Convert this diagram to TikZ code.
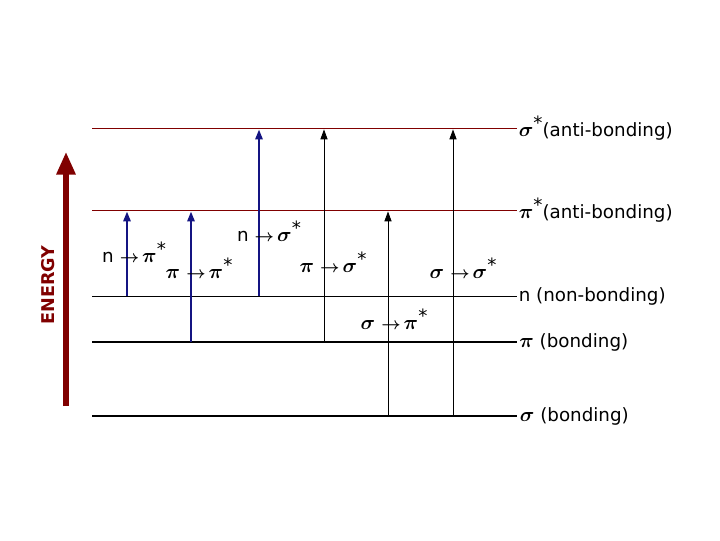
\documentclass[tikz,border=0pt]{standalone}
\usepackage{fontspec}
\setmainfont{DejaVu Sans}
\usepackage{bm}
\usetikzlibrary{arrows.meta}

\definecolor{darkred}{RGB}{128,0,0}
\definecolor{navy}{RGB}{20,20,130}

\newcommand{\gk}[1]{{\fontsize{15}{16}\selectfont$\bm{#1}$}}
\newcommand{\st}{\raisebox{0.7ex}{*}}
\newcommand{\trans}[2]{#1\,\,$\bm{\rightarrow}$\,\gk{#2}\st}

\begin{document}
\begin{tikzpicture}[x=0.025cm, y=-0.025cm,
    antibond/.style={draw=darkred, line width=0.6pt},
    nonbond/.style={draw=black, line width=0.6pt},
    bond/.style={draw=black, line width=1.3pt},
    sbond/.style={draw=black, line width=2pt},
    orblabel/.style={anchor=west, font=\fontsize{13}{15}\selectfont, inner sep=1pt},
    translabel/.style={font=\fontsize{13}{15}\selectfont, inner sep=0pt},
    upblue/.style={navy, line width=1.6pt, -{Triangle[length=7pt, width=5pt]}},
    upblack/.style={black, line width=0.6pt, -{Triangle[length=7pt, width=5pt]}},
    energy/.style={darkred, line width=3.6pt, -{Triangle[length=16pt, width=13pt]}}
]
\useasboundingbox (0,0) rectangle (720,540);

%% ── Energy levels ────────────────────────────────────────────────
\coordinate (ss) at (92,128);
\coordinate (ps) at (92,210);
\coordinate (nb) at (92,296);
\coordinate (pb) at (92,342);
\coordinate (sb) at (92,416);

\draw[antibond] (ss) -- ++(425,0) node[orblabel] {\gk{\sigma}\st(anti-bonding)};
\draw[antibond] (ps) -- ++(425,0) node[orblabel] {\gk{\pi}\st(anti-bonding)};
\draw[nonbond]  (nb) -- ++(425,0) node[orblabel] {n (non-bonding)};
\draw[bond]     (pb) -- ++(425,0) node[orblabel] {\gk{\pi} (bonding)};
\draw[sbond]    (sb) -- ++(425,0) node[orblabel] {\gk{\sigma} (bonding)};

%% ── Energy axis ──────────────────────────────────────────────────
\coordinate (e0) at (66,406);
\coordinate (e1) at (66,152);
\draw[energy] (e0) -- (e1);
\node[rotate=90, text=darkred, font=\bfseries\fontsize{12.5}{14}\selectfont]
    (elabel) at (48,285) {ENERGY};

%% ── Transition columns ───────────────────────────────────────────
\coordinate (c1) at (127,0);
\coordinate (c2) at (191,0);
\coordinate (c3) at (259,0);
\coordinate (c4) at (324,0);
\coordinate (c5) at (388,0);
\coordinate (c6) at (453,0);

%% ── Transitions ──────────────────────────────────────────────────
\draw[upblue]  (nb -| c1) -- ([yshift=-1pt]ps -| c1);
\draw[upblue]  (pb -| c2) -- ([yshift=-1pt]ps -| c2);
\draw[upblue]  (nb -| c3) -- ([yshift=-1pt]ss -| c3);
\draw[upblack] (pb -| c4) -- ([yshift=-1pt]ss -| c4);
\draw[upblack] (sb -| c5) -- ([yshift=-1pt]ps -| c5);
\draw[upblack] (sb -| c6) -- ([yshift=-1pt]ss -| c6);

%% ── Transition labels ────────────────────────────────────────────
\node[translabel] (t1) at (134,252) {\trans{n}{\pi}};
\node[translabel] (t2) at (199,268) {\trans{\gk{\pi}}{\pi}};
\node[translabel] (t3) at (269,231) {\trans{n}{\sigma}};
\node[translabel] (t4) at (333,262) {\trans{\gk{\pi}}{\sigma}};
\node[translabel] (t5) at (394,319) {\trans{\gk{\sigma}}{\pi}};
\node[translabel] (t6) at (463,268) {\trans{\gk{\sigma}}{\sigma}};

\end{tikzpicture}
\end{document}
